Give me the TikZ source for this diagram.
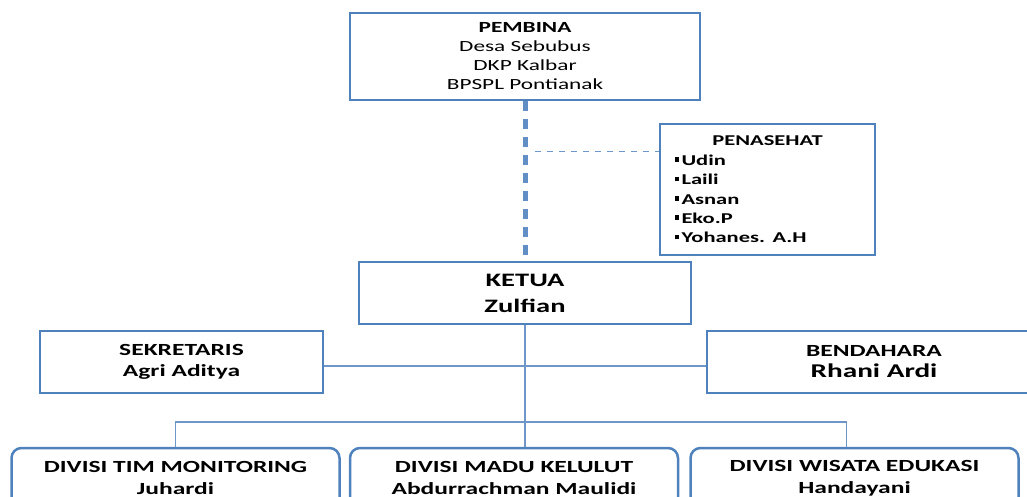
\documentclass[tikz,border=0pt]{standalone}
\usepackage{fontspec}
\setmainfont{Carlito}[FakeStretch=1.5]
\usetikzlibrary{positioning}
\definecolor{boxblue}{RGB}{79,129,189}
\definecolor{lineblue}{RGB}{110,150,200}
\newcommand{\penbullet}{\rule[3.5pt]{4.5pt}{4.5pt}\hspace{2.5pt}}

\begin{document}
\begin{tikzpicture}[
    x=1pt, y=-1pt,
    orgbox/.style={
        rectangle,
        draw=boxblue,
        line width=2.5pt,
        fill=white,
        align=center,
        inner sep=0pt,
        minimum height=62pt
    },
    divbox/.style={
        orgbox,
        rounded corners=10pt,
        minimum width=328pt,
        minimum height=60pt,
        font=\fontsize{17}{22}\selectfont\bfseries
    },
    link/.style={draw=lineblue, line width=1.5pt},
    advline/.style={draw=boxblue!90, line width=5pt, dash pattern=on 10pt off 8pt},
    advthin/.style={draw=lineblue, line width=1.5pt, dash pattern=on 6pt off 6pt}
]
    \useasboundingbox (0,0) rectangle (1027,497);
    \clip (0,0) rectangle (1027,497);

    % Pembina
    \node[orgbox, minimum width=350pt, minimum height=87pt,
          font=\fontsize{15.5}{19}\selectfont] (pembina) at (525,56.5)
        {\textbf{PEMBINA}\\Desa Sebubus\\DKP Kalbar\\BPSPL Pontianak};

    % Penasehat
    \node[orgbox, minimum width=215pt, minimum height=131pt, text width=186pt,
          align=left, font=\fontsize{15}{19.4}\selectfont\bfseries] (penasehat) at (767.5,189.5)
        {\makebox[\linewidth]{PENASEHAT}\\
         \penbullet Udin\\
         \penbullet Laili\\
         \penbullet Asnan\\
         \penbullet Eko.P\\
         \penbullet Yohanes. A.H};

    % Ketua
    \node[orgbox, minimum width=332pt, font=\fontsize{19}{26}\selectfont\bfseries] (ketua) at (525,293)
        {KETUA\\Zulfian};

    % Sekretaris and Bendahara
    \node[orgbox, minimum width=283pt, font=\fontsize{17}{21}\selectfont\bfseries] (sekretaris) at (181.5,362)
        {SEKRETARIS\\Agri Aditya};
    \node[orgbox, minimum width=334pt, font=\fontsize{17}{21}\selectfont\bfseries] (bendahara) at (874,362)
        {BENDAHARA\\{\fontsize{19.5}{23}\selectfont Rhani Ardi}};

    % Divisi
    \node[divbox] (div2) at (514,478) {DIVISI MADU KELULUT\\Abdurrachman Maulidi};
    \node[divbox, left=8pt of div2] (div1) {DIVISI TIM MONITORING\\Juhardi};
    \node[divbox, right=10pt of div2] (div3) {DIVISI WISATA EDUKASI\\Handayani};

    % Dashed links
    \draw[advline] (pembina.south) -- (ketua.north);
    \coordinate (advstart) at (535,151.5);
    \draw[advthin] (advstart) -- (advstart -| penasehat.west);

    % Links
    \coordinate (midline) at (527,366);
    \coordinate (bus) at (527,422);
    \draw[link] (sekretaris.east |- midline) -- (bendahara.west |- midline);
    \draw[link] (ketua.south) -- (ketua.south |- div2.north);
    \draw[link] (div1.north) |- (bus) -| ([xshift=-8pt]div3.north);
\end{tikzpicture}
\end{document}
